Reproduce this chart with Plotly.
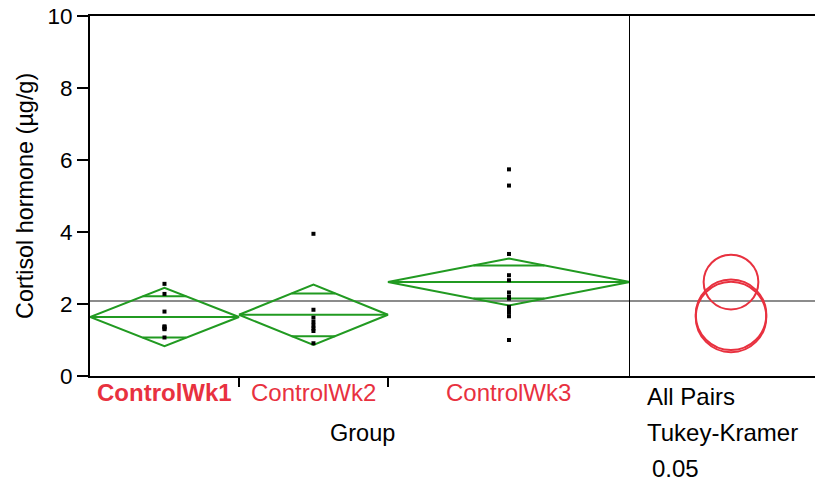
import numpy as np
import plotly.graph_objects as go

# ---------------- data ----------------
groups = ["ControlWk1", "ControlWk2", "ControlWk3"]
group_n = [8, 8, 13]
wk1_values = [2.56, 2.28, 1.79, 1.38, 1.36, 1.32, 1.30, 1.07]
wk2_values = [3.95, 1.84, 1.62, 1.50, 1.40, 1.32, 1.25, 0.91]
wk3_values = [5.74, 5.29, 3.39, 2.80, 2.66, 2.32, 2.20, 2.15, 1.92, 1.84, 1.76, 1.66, 1.00]
group_means = [1.64, 1.70, 2.61]
ci_half_width = [0.81, 0.84, 0.65]
circle_radius = [0.98, 0.98, 0.76]
grand_mean = 2.08
y_ticks = [0, 2, 4, 6, 8, 10]
panel_labels = ["All Pairs", "Tukey-Kramer", "0.05"]

# ---------------- geometry ----------------
W, H = 817, 481
ML, MR, MT, MB = 90, 2, 16, 105
plot_w = W - ML - MR
plot_h = H - MT - MB
main_w = 540
split = main_w / plot_w
px_per_unit = plot_h / 10.0
right_w = plot_w - main_w

GREEN = "#219A21"
RED = "#E8313F"
FONT = "Liberation Sans, Arial, sans-serif"

cum = np.concatenate([[0], np.cumsum(group_n)])
total_n = cum[-1]

fig = go.Figure()

# diamonds
for i, g in enumerate(groups):
    x0, x1 = cum[i], cum[i + 1]
    xc = (x0 + x1) / 2
    m, h = group_means[i], ci_half_width[i]
    w = x1 - x0
    fig.add_trace(go.Scatter(
        x=[x0, xc, x1, xc, x0, None, x0, x1],
        y=[m, m + h, m, m - h, m, None, m, m],
        mode="lines", line=dict(color=GREEN, width=2),
        hoverinfo="skip", showlegend=False, xaxis="x", yaxis="y"))
    d = h / np.sqrt(2)
    hw = w * (1 - 1 / np.sqrt(2)) / 2
    fig.add_trace(go.Scatter(
        x=[xc - hw, xc + hw, None, xc - hw, xc + hw],
        y=[m + d, m + d, None, m - d, m - d],
        mode="lines", line=dict(color=GREEN, width=2),
        hoverinfo="skip", showlegend=False, xaxis="x", yaxis="y"))

# points
for i, vals in enumerate([wk1_values, wk2_values, wk3_values]):
    xc = (cum[i] + cum[i + 1]) / 2
    fig.add_trace(go.Scatter(
        x=[xc] * len(vals), y=vals, mode="markers",
        marker=dict(symbol="square", size=4, color="black", line=dict(width=0)),
        showlegend=False, xaxis="x", yaxis="y"))

# dummy trace for x2
fig.add_trace(go.Scatter(x=[0], y=[grand_mean], mode="markers", marker=dict(opacity=0),
                         showlegend=False, hoverinfo="skip", xaxis="x2", yaxis="y"))

shapes = []
shapes.append(dict(type="line", xref="paper", yref="y", x0=0, x1=1, y0=grand_mean, y1=grand_mean,
                   line=dict(color="#8C8C8C", width=2), layer="below"))
shapes.append(dict(type="line", xref="x", yref="paper", x0=total_n, x1=total_n, y0=0, y1=1,
                   line=dict(color="black", width=2)))
cx = 101 / px_per_unit
for m, r in zip(group_means, circle_radius):
    shapes.append(dict(type="circle", xref="x2", yref="y", x0=cx - r, x1=cx + r, y0=m - r, y1=m + r,
                       line=dict(color=RED, width=2)))


def py(p):
    return (MT + plot_h - p) / plot_h


def px(p):
    return (p - ML) / plot_w


annotations = []
annotations.append(dict(text="Cortisol hormone (µg/g)", xref="paper", yref="paper", x=px(25), y=0.5,
                        textangle=-90, showarrow=False, font=dict(size=23.4, color="black", family=FONT),
                        xanchor="center", yanchor="middle"))
for i, g in enumerate(groups):
    xc = (cum[i] + cum[i + 1]) / 2
    txt = f"<b>{g}</b>" if i == 0 else g
    annotations.append(dict(text=txt, xref="x", yref="paper", x=xc, y=py(392.5), showarrow=False,
                            font=dict(size=24, color=RED, family=FONT), xanchor="center", yanchor="middle"))
annotations.append(dict(text="Group", xref="paper", yref="paper", x=px(362), y=py(433), showarrow=False,
                        font=dict(size=23.5, color="black", family=FONT), xanchor="center", yanchor="middle"))
for lbl, xp, yp in zip(panel_labels, [645, 645, 650], [396, 433, 468]):
    annotations.append(dict(text=lbl, xref="paper", yref="paper", x=px(xp), y=py(yp), showarrow=False,
                            font=dict(size=24, color="black", family=FONT), xanchor="left", yanchor="middle"))

fig.update_layout(
    width=W, height=H, margin=dict(l=ML, r=MR, t=MT, b=MB),
    plot_bgcolor="white", paper_bgcolor="white",
    font=dict(family=FONT, color="black"),
    xaxis=dict(domain=[0, split], range=[0, total_n], showgrid=False, zeroline=False,
               showline=True, linecolor="black", linewidth=2, mirror=True,
               ticks="outside", tickvals=[cum[1], cum[2]], ticklen=9, tickwidth=2, tickcolor="black",
               showticklabels=False, fixedrange=True),
    xaxis2=dict(domain=[split, 1], range=[0, right_w / px_per_unit], showgrid=False, zeroline=False,
                showline=True, linecolor="black", linewidth=2, mirror=True, ticks="",
                showticklabels=False, anchor="y"),
    yaxis=dict(range=[0, 10], tickvals=y_ticks, showgrid=False, zeroline=False,
               showline=True, linecolor="black", linewidth=2,
               ticks="outside", ticklen=11, tickwidth=2, tickcolor="black",
               tickfont=dict(size=22.5, color="black", family=FONT)),
    shapes=shapes, annotations=annotations, showlegend=False,
)

fig.write_html("out.html", config={"displayModeBar": False},
               post_script="document.body.style.margin='0px';document.body.style.overflow='hidden';")
